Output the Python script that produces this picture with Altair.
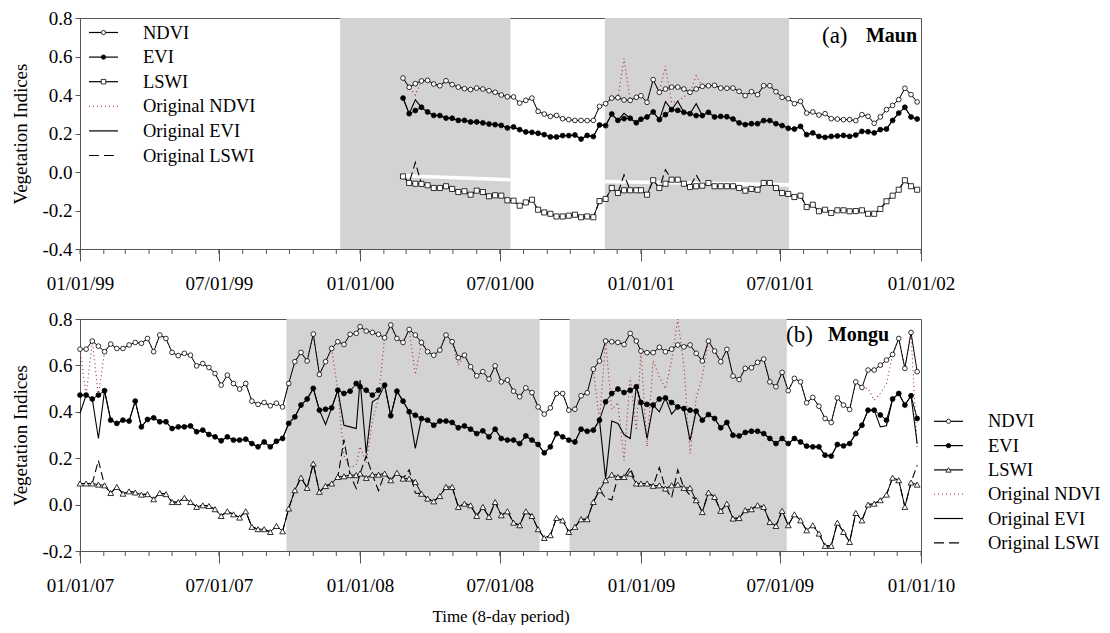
import datetime as dt
import altair as alt
import pandas as pd

FONT = "Liberation Serif"
AX = "#555555"
W = 841
H_TOP = 231
H_BOT = 232

# ---------------- Maun (a): 8-day composites, 2000 (from DOY 57) and 2001 ----------------
maun_ndvi_2000 = [0.488, 0.440, 0.459, 0.473, 0.476, 0.457, 0.448, 0.474, 0.454, 0.441,
                  0.433, 0.428, 0.436, 0.431, 0.422, 0.414, 0.400, 0.391, 0.390, 0.358,
                  0.372, 0.384, 0.315, 0.301, 0.289, 0.294, 0.277, 0.272, 0.268, 0.268,
                  0.267, 0.268, 0.341, 0.355, 0.384, 0.386, 0.374, 0.372, 0.388]
maun_ndvi_2001 = [0.396, 0.362, 0.480, 0.414, 0.431, 0.441, 0.441, 0.431, 0.414, 0.431,
                  0.445, 0.448, 0.450, 0.436, 0.435, 0.436, 0.419, 0.397, 0.417, 0.402,
                  0.448, 0.448, 0.417, 0.388, 0.381, 0.355, 0.367, 0.306, 0.312, 0.296,
                  0.303, 0.277, 0.275, 0.272, 0.272, 0.267, 0.298, 0.289, 0.253, 0.286,
                  0.324, 0.346, 0.376, 0.435, 0.402, 0.364]
maun_evi_2000 = [0.384, 0.303, 0.319, 0.336, 0.312, 0.294, 0.293, 0.280, 0.279, 0.268,
                 0.268, 0.260, 0.260, 0.255, 0.249, 0.246, 0.242, 0.229, 0.234, 0.220,
                 0.208, 0.206, 0.201, 0.194, 0.182, 0.182, 0.189, 0.189, 0.192, 0.171,
                 0.190, 0.184, 0.244, 0.241, 0.301, 0.268, 0.277, 0.279, 0.256]
maun_evi_2001 = [0.274, 0.286, 0.312, 0.272, 0.298, 0.324, 0.320, 0.310, 0.303, 0.293,
                 0.293, 0.310, 0.286, 0.289, 0.287, 0.275, 0.255, 0.246, 0.251, 0.251,
                 0.267, 0.267, 0.251, 0.241, 0.227, 0.223, 0.237, 0.194, 0.203, 0.185,
                 0.180, 0.185, 0.187, 0.190, 0.185, 0.192, 0.211, 0.209, 0.203, 0.220,
                 0.223, 0.268, 0.306, 0.336, 0.286, 0.275]
maun_lswi_2000 = [-0.023, -0.057, -0.061, -0.062, -0.069, -0.083, -0.083, -0.074, -0.088, -0.104,
                  -0.100, -0.118, -0.097, -0.104, -0.126, -0.121, -0.123, -0.147, -0.149, -0.175,
                  -0.158, -0.144, -0.196, -0.210, -0.217, -0.231, -0.231, -0.227, -0.222, -0.235,
                  -0.231, -0.235, -0.151, -0.140, -0.083, -0.109, -0.095, -0.095, -0.095]
maun_lswi_2001 = [-0.095, -0.118, -0.043, -0.083, -0.061, -0.040, -0.040, -0.061, -0.078, -0.074,
                  -0.071, -0.057, -0.074, -0.074, -0.074, -0.074, -0.083, -0.097, -0.088, -0.092,
                  -0.057, -0.057, -0.083, -0.109, -0.114, -0.130, -0.123, -0.182, -0.170, -0.204,
                  -0.196, -0.213, -0.199, -0.199, -0.204, -0.203, -0.199, -0.217, -0.217, -0.192,
                  -0.152, -0.123, -0.092, -0.043, -0.074, -0.092]
# original (unsmoothed) values where they differ from the smoothed ones {index: value}
maun_orig_ndvi_2000 = {2: 0.40, 36: 0.59}
maun_orig_ndvi_2001 = {4: 0.55, 5: 0.36, 6: 0.37, 7: 0.39, 9: 0.50}
maun_orig_evi_2000 = {2: 0.375, 36: 0.305}
maun_orig_evi_2001 = {4: 0.365, 6: 0.368, 9: 0.355}
maun_orig_lswi_2000 = {2: 0.05, 36: -0.015}
maun_orig_lswi_2001 = {4: 0.012, 9: -0.015}

# ---------------- Mongu (b): 8-day composites 2007-2009 ----------------
mongu_ndvi_2007 = [0.670, 0.670, 0.705, 0.683, 0.659, 0.692, 0.673, 0.673, 0.688, 0.699,
                   0.695, 0.716, 0.659, 0.731, 0.716, 0.656, 0.642, 0.652, 0.644, 0.598,
                   0.608, 0.591, 0.565, 0.515, 0.558, 0.522, 0.498, 0.522, 0.446, 0.432,
                   0.440, 0.426, 0.437, 0.421, 0.522, 0.616, 0.656, 0.619, 0.735, 0.561,
                   0.616, 0.673, 0.702, 0.690, 0.734, 0.738]
mongu_ndvi_2008 = [0.767, 0.748, 0.742, 0.734, 0.719, 0.774, 0.716, 0.699, 0.755, 0.731,
                   0.699, 0.659, 0.644, 0.666, 0.731, 0.702, 0.633, 0.644, 0.594, 0.555,
                   0.573, 0.541, 0.598, 0.529, 0.537, 0.489, 0.465, 0.503, 0.483, 0.421,
                   0.390, 0.417, 0.479, 0.479, 0.407, 0.411, 0.469, 0.482, 0.584, 0.619,
                   0.705, 0.702, 0.699, 0.690, 0.738, 0.705]
mongu_ndvi_2009 = [0.662, 0.655, 0.655, 0.678, 0.659, 0.670, 0.688, 0.680, 0.688, 0.652,
                   0.619, 0.705, 0.662, 0.616, 0.669, 0.554, 0.539, 0.587, 0.590, 0.613,
                   0.627, 0.529, 0.508, 0.570, 0.491, 0.544, 0.529, 0.439, 0.462, 0.424,
                   0.371, 0.354, 0.460, 0.429, 0.410, 0.529, 0.505, 0.580, 0.580, 0.601,
                   0.623, 0.647, 0.716, 0.587, 0.742, 0.573]
mongu_evi_2007 = [0.472, 0.472, 0.455, 0.472, 0.491, 0.364, 0.350, 0.364, 0.360, 0.446,
                  0.335, 0.367, 0.374, 0.357, 0.357, 0.328, 0.335, 0.335, 0.339, 0.314,
                  0.321, 0.302, 0.292, 0.275, 0.292, 0.278, 0.278, 0.282, 0.263, 0.249,
                  0.270, 0.249, 0.273, 0.285, 0.350, 0.378, 0.429, 0.455, 0.501, 0.407,
                  0.411, 0.417, 0.493, 0.479, 0.489, 0.522]
mongu_evi_2008 = [0.508, 0.493, 0.472, 0.493, 0.515, 0.383, 0.489, 0.446, 0.400, 0.385,
                  0.371, 0.364, 0.342, 0.360, 0.360, 0.354, 0.331, 0.339, 0.325, 0.306,
                  0.318, 0.292, 0.325, 0.285, 0.278, 0.278, 0.263, 0.296, 0.278, 0.259,
                  0.223, 0.249, 0.306, 0.292, 0.278, 0.270, 0.325, 0.316, 0.321, 0.364,
                  0.443, 0.479, 0.498, 0.483, 0.493, 0.508]
mongu_evi_2009 = [0.440, 0.432, 0.429, 0.455, 0.460, 0.440, 0.421, 0.414, 0.407, 0.403,
                  0.364, 0.388, 0.371, 0.331, 0.354, 0.299, 0.296, 0.311, 0.316, 0.316,
                  0.306, 0.285, 0.263, 0.285, 0.263, 0.285, 0.270, 0.252, 0.249, 0.249,
                  0.213, 0.209, 0.259, 0.253, 0.263, 0.306, 0.342, 0.407, 0.407, 0.386,
                  0.364, 0.455, 0.479, 0.429, 0.469, 0.371]
mongu_lswi_2007 = [0.091, 0.091, 0.091, 0.086, 0.083, 0.050, 0.076, 0.047, 0.057, 0.052,
                   0.043, 0.045, 0.023, 0.050, 0.045, 0.011, 0.011, 0.029, 0.011, -0.010,
                   -0.003, -0.006, -0.020, -0.049, -0.029, -0.042, -0.056, -0.029, -0.096, -0.106,
                   -0.106, -0.118, -0.092, -0.115, -0.017, 0.062, 0.116, 0.072, 0.177, 0.055,
                   0.080, 0.091, 0.119, 0.122, 0.127, 0.127]
mongu_lswi_2008 = [0.134, 0.115, 0.129, 0.129, 0.134, 0.105, 0.137, 0.112, 0.112, 0.098,
                   0.047, 0.026, 0.014, 0.037, 0.076, 0.076, -0.010, 0.004, -0.003, -0.049,
                   -0.010, -0.053, 0.011, -0.046, -0.029, -0.078, -0.089, -0.029, -0.049, -0.106,
                   -0.144, -0.132, -0.058, -0.068, -0.118, -0.096, -0.063, -0.063, 0.011, 0.062,
                   0.105, 0.129, 0.119, 0.119, 0.134, 0.091]
mongu_lswi_2009 = [0.091, 0.091, 0.081, 0.083, 0.069, 0.083, 0.086, 0.072, 0.072, 0.019,
                   -0.032, 0.052, 0.033, -0.027, 0.004, -0.060, -0.058, -0.024, -0.020, -0.003,
                   -0.010, -0.075, -0.092, -0.027, -0.089, -0.042, -0.068, -0.111, -0.089, -0.125,
                   -0.178, -0.178, -0.078, -0.118, -0.161, -0.036, -0.068, 0.000, 0.004, 0.019,
                   0.043, 0.116, 0.105, -0.010, 0.095, 0.086]
mongu_orig_ndvi_2007 = {1: 0.47, 3: 0.47, 42: 0.49, 43: 0.21, 44: 0.16, 45: 0.17}
mongu_orig_ndvi_2008 = {0: 0.25, 1: 0.18, 2: 0.36, 3: 0.46, 9: 0.56, 16: 0.60, 39: 0.36,
                        41: 0.41, 42: 0.44, 43: 0.19, 44: 0.55, 45: 0.32}
mongu_orig_ndvi_2009 = {1: 0.25, 2: 0.62, 3: 0.55, 4: 0.50, 5: 0.62, 6: 0.80, 7: 0.60,
                        8: 0.22, 9: 0.46, 10: 0.55, 37: 0.50, 38: 0.45, 39: 0.48, 40: 0.52, 45: 0.24}
mongu_orig_evi_2007 = {0: 0.393, 3: 0.285, 40: 0.345, 43: 0.342, 44: 0.335, 45: 0.328}
mongu_orig_evi_2008 = {0: 0.537, 1: 0.220, 2: 0.443, 3: 0.46, 9: 0.242, 40: 0.112,
                       41: 0.36, 42: 0.35, 43: 0.302, 44: 0.285}
mongu_orig_evi_2009 = {1: 0.285, 3: 0.40, 5: 0.39, 8: 0.277, 39: 0.335, 40: 0.34, 45: 0.263}
mongu_orig_lswi_2007 = {3: 0.19, 43: 0.28, 45: 0.07}
mongu_orig_lswi_2008 = {1: 0.21, 3: 0.06, 8: 0.15, 9: 0.05, 40: 0.03, 41: 0.02, 44: 0.16}
mongu_orig_lswi_2009 = {3: 0.16, 5: 0.03, 6: 0.15, 8: 0.04, 45: 0.17}

# shaded (growing-season) periods
maun_shade_start = ["1999-12-06", "2000-11-15"]
maun_shade_end = ["2000-07-15", "2001-07-13"]
mongu_shade_start = ["2007-09-27", "2008-09-30"]
mongu_shade_end = ["2008-08-22", "2009-07-10"]
# thin white gap inside the Maun shading (edges of the two shaded pieces)
maun_gap_dates = ["2000-02-26", "2000-07-15", "2000-11-15", "2001-07-13"]
maun_gap_hi = [-0.010, -0.031, -0.040, -0.057]
maun_gap_lo = [-0.028, -0.049, -0.058, -0.076]
maun_gap_piece = [1, 1, 2, 2]

series_names = ["NDVI", "EVI", "LSWI"]
legend_labels = ["NDVI", "EVI", "LSWI", "Original NDVI", "Original EVI", "Original LSWI"]

TICK_FS = 19
LEG_FS = 18.5


def composite_dates(year, first_doy=1):
    base = dt.date(year, 1, 1)
    return [(base + dt.timedelta(days=d - 1)).isoformat() for d in range(first_doy, 366, 8)]


def with_orig(base, over):
    out = list(base)
    for i, v in over.items():
        out[i] = v
    return out


def frame(dates, values, name):
    return pd.DataFrame({"date": dates, "value": values, "series": name})


def x_enc(field, dom_years, title):
    y0, y1 = dom_years
    vals = []
    for yy in range(y0, y1 + 1):
        for mm in (1, 7):
            if yy == y1 and mm == 7:
                continue
            vals.append(alt.DateTime(year=yy, month=mm, date=1, utc=True))
    kw = dict(values=vals, tickSize=12, tickColor=AX, domainColor=AX, grid=False,
              labelFont=FONT, labelFontSize=TICK_FS, labelColor="black", labelPadding=13,
              labelExpr="utcFormat(datum.value, '%m/%d/%y')", labelFlush=False)
    if title:
        kw.update(title=title, titleFont=FONT, titleFontSize=17, titleFontWeight="normal",
                  titleColor="black", titlePadding=13)
    else:
        kw.update(title=None)
    return alt.X(field, scale=alt.Scale(type="utc",
                                        domain=[alt.DateTime(year=y0, month=1, date=1, utc=True),
                                                alt.DateTime(year=y1, month=1, date=1, utc=True)]),
                 axis=alt.Axis(**kw))


def y_enc(dom, vals, field="value:Q"):
    return alt.Y(field, scale=alt.Scale(domain=dom, nice=False, zero=False),
                 axis=alt.Axis(values=vals, tickSize=5, tickColor=AX, domainColor=AX, grid=False,
                               labelFont=FONT, labelFontSize=TICK_FS, labelColor="black", labelPadding=3,
                               labelExpr="replace(format(datum.value, '.1f'), '\u2212', '-')",
                               title="Vegetation Indices", titleFont=FONT, titleFontSize=19,
                               titleFontWeight="normal", titleColor="black", titleX=-60,
                               titleBaseline="middle"))


def panel(dates, sm, orig, shade_s, shade_e, years, ydom, yvals, height, lswi_shape,
          letter, site, letter_x, site_x, label_y, leg_x0, leg_y0, leg_dy, xtitle, gap=None):
    X = x_enc("date:T", years, xtitle)
    Y = y_enc(ydom, yvals)
    layers = []
    shade = pd.DataFrame({"start": shade_s, "end": shade_e})
    layers.append(alt.Chart(shade).mark_rect(color="#d3d3d3").encode(
        x=x_enc("start:T", years, xtitle), x2="end:T", y=alt.value(0), y2=alt.value(height)))
    if gap is not None:
        layers.append(alt.Chart(gap).mark_area(color="white", opacity=1).encode(
            x=X, y=y_enc(ydom, yvals, "hi:Q"), y2="lo:Q", detail="piece:N"))
    months = []
    for yy in range(years[0], years[1]):
        for mm in range(1, 13):
            months.append(dt.date(yy, mm, 1).isoformat())
    months.append(dt.date(years[1], 1, 1).isoformat())
    layers.append(alt.Chart(pd.DataFrame({"date": months})).mark_rule(color=AX, strokeWidth=1).encode(
        x=X, y=alt.value(height), y2=alt.value(height + 5)))
    # original series
    layers.append(alt.Chart(frame(dates, orig["NDVI"], "NDVI")).mark_line(
        color="#a5282c", strokeWidth=1.1, strokeDash=[1, 3]).encode(x=X, y=Y))
    layers.append(alt.Chart(frame(dates, orig["EVI"], "EVI")).mark_line(
        color="black", strokeWidth=1.1).encode(x=X, y=Y))
    layers.append(alt.Chart(frame(dates, orig["LSWI"], "LSWI")).mark_line(
        color="black", strokeWidth=1.1, strokeDash=[8, 4]).encode(x=X, y=Y))
    # smoothed series with markers
    marker = {"NDVI": ("circle", "white", 22), "EVI": ("circle", "black", 24),
              "LSWI": (lswi_shape, "white", 26 if lswi_shape == "square" else 34)}
    for s in series_names:
        df = frame(dates, sm[s], s)
        layers.append(alt.Chart(df).mark_line(color="black", strokeWidth=1).encode(x=X, y=Y))
    for s in series_names:
        df = frame(dates, sm[s], s)
        shp, fill, size = marker[s]
        layers.append(alt.Chart(df).mark_point(shape=shp, filled=True, fill=fill, stroke="black",
                                               strokeWidth=0.8, size=size, opacity=1).encode(x=X, y=Y))
    # legend
    one = pd.DataFrame({"k": [0]})
    leg_styles = [
        dict(color="black", dash=None, mk=marker["NDVI"]),
        dict(color="black", dash=None, mk=marker["EVI"]),
        dict(color="black", dash=None, mk=marker["LSWI"]),
        dict(color="#c0504d", dash=[1, 3], mk=None),
        dict(color="black", dash=None, mk=None),
        dict(color="black", dash=[10, 5], mk=None),
    ]
    for i, (lab, st) in enumerate(zip(legend_labels, leg_styles)):
        yy = leg_y0 + i * leg_dy
        rk = dict(color=st["color"], strokeWidth=1.2)
        if st["dash"]:
            rk["strokeDash"] = st["dash"]
        layers.append(alt.Chart(one).mark_rule(**rk).encode(
            x=alt.value(leg_x0), x2=alt.value(leg_x0 + 29), y=alt.value(yy)))
        if st["mk"]:
            shp, fill, size = st["mk"]
            layers.append(alt.Chart(one).mark_point(shape=shp, filled=True, fill=fill, stroke="black",
                                                    strokeWidth=0.8, size=size * 0.8, opacity=1).encode(
                x=alt.value(leg_x0 + 14.5), y=alt.value(yy)))
        layers.append(alt.Chart(one).mark_text(text=lab, align="left", baseline="middle", font=FONT,
                                               fontSize=LEG_FS, color="black").encode(
            x=alt.value(leg_x0 + 54), y=alt.value(yy)))
    # panel label
    layers.append(alt.Chart(one).mark_text(text=letter, align="left", baseline="middle", font=FONT,
                                           fontSize=23, color="black").encode(
        x=alt.value(letter_x), y=alt.value(label_y)))
    layers.append(alt.Chart(one).mark_text(text=site, align="right", baseline="middle", font=FONT,
                                           fontSize=20, fontWeight="bold", color="black").encode(
        x=alt.value(site_x), y=alt.value(label_y)))
    return alt.layer(*layers).properties(width=W, height=height)


# ---- assemble Maun ----
maun_dates = composite_dates(2000, 57) + composite_dates(2001)
maun_sm = {"NDVI": maun_ndvi_2000 + maun_ndvi_2001,
           "EVI": maun_evi_2000 + maun_evi_2001,
           "LSWI": maun_lswi_2000 + maun_lswi_2001}
maun_or = {"NDVI": with_orig(maun_ndvi_2000, maun_orig_ndvi_2000) + with_orig(maun_ndvi_2001, maun_orig_ndvi_2001),
           "EVI": with_orig(maun_evi_2000, maun_orig_evi_2000) + with_orig(maun_evi_2001, maun_orig_evi_2001),
           "LSWI": with_orig(maun_lswi_2000, maun_orig_lswi_2000) + with_orig(maun_lswi_2001, maun_orig_lswi_2001)}
maun_gap = pd.DataFrame({"date": maun_gap_dates, "hi": maun_gap_hi, "lo": maun_gap_lo,
                         "piece": maun_gap_piece})

mongu_dates = composite_dates(2007) + composite_dates(2008) + composite_dates(2009)
mongu_sm = {"NDVI": mongu_ndvi_2007 + mongu_ndvi_2008 + mongu_ndvi_2009,
            "EVI": mongu_evi_2007 + mongu_evi_2008 + mongu_evi_2009,
            "LSWI": mongu_lswi_2007 + mongu_lswi_2008 + mongu_lswi_2009}
mongu_or = {"NDVI": with_orig(mongu_ndvi_2007, mongu_orig_ndvi_2007) + with_orig(mongu_ndvi_2008, mongu_orig_ndvi_2008)
            + with_orig(mongu_ndvi_2009, mongu_orig_ndvi_2009),
            "EVI": with_orig(mongu_evi_2007, mongu_orig_evi_2007) + with_orig(mongu_evi_2008, mongu_orig_evi_2008)
            + with_orig(mongu_evi_2009, mongu_orig_evi_2009),
            "LSWI": with_orig(mongu_lswi_2007, mongu_orig_lswi_2007) + with_orig(mongu_lswi_2008, mongu_orig_lswi_2008)
            + with_orig(mongu_lswi_2009, mongu_orig_lswi_2009)}

top = panel(maun_dates, maun_sm, maun_or, maun_shade_start, maun_shade_end, (1999, 2002),
            [-0.4, 0.8], [-0.4, -0.2, 0.0, 0.2, 0.4, 0.6, 0.8], H_TOP, "square",
            "(a)", "Maun", 742, 837, 18, 9, 14.5, 24.6, None, gap=maun_gap)
bottom = panel(mongu_dates, mongu_sm, mongu_or, mongu_shade_start, mongu_shade_end, (2007, 2010),
               [-0.2, 0.8], [-0.2, 0.0, 0.2, 0.4, 0.6, 0.8], H_BOT, "triangle-up",
               "(b)", "Mongu", 706, 809, 16, 854, 102.3, 24.3, "Time (8-day period)")

chart = alt.vconcat(top, bottom, spacing=15).properties(
    padding={"left": 2, "top": 0, "right": 0, "bottom": 0}
).configure_view(stroke=AX, strokeWidth=1)

chart.save("out.html", embed_options={"renderer": "svg", "actions": False})
